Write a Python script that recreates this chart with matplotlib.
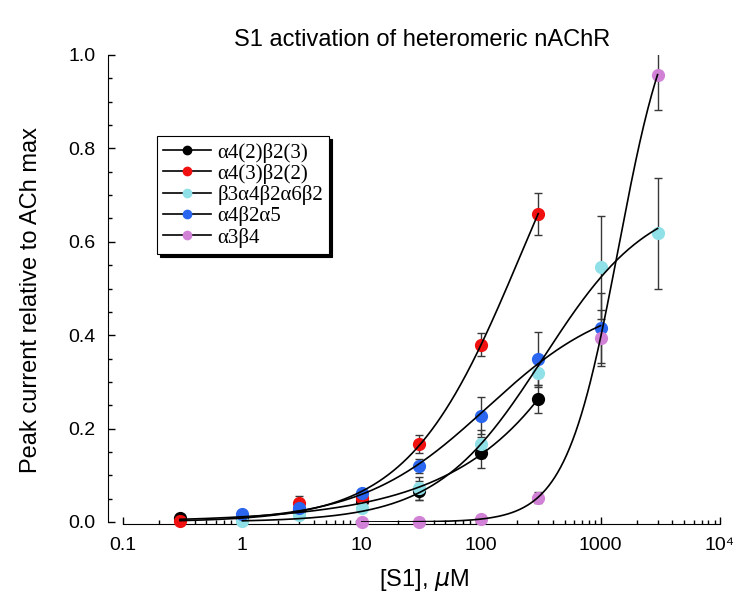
import numpy as np
import matplotlib
matplotlib.use('Agg')
import matplotlib.pyplot as plt
from matplotlib.ticker import LogLocator, FixedLocator, MultipleLocator, FixedFormatter

# concentrations (uM), mean response and error per receptor
labels = ['α4(2)β2(3)', 'α4(3)β2(2)', 'β3α4β2α6β2', 'α4β2α5', 'α3β4']
colors = ['#000000', '#f01010', '#90e0e8', '#2a66f0', '#d282d6']

x_a42b23 = [0.3, 1, 3, 10, 30, 100, 300]
y_a42b23 = [0.008, 0.006, 0.025, 0.045, 0.067, 0.148, 0.263]
e_a42b23 = [0.003, 0.003, 0.006, 0.008, 0.02, 0.033, 0.03]

x_a43b22 = [0.3, 3, 10, 30, 100, 300]
y_a43b22 = [0.002, 0.040, 0.052, 0.167, 0.380, 0.660]
e_a43b22 = [0.002, 0.015, 0.008, 0.02, 0.025, 0.045]

x_b3a4b2a6b2 = [1, 3, 10, 30, 100, 300, 1000, 3000]
y_b3a4b2a6b2 = [0.002, 0.014, 0.029, 0.072, 0.168, 0.318, 0.545, 0.618]
e_b3a4b2a6b2 = [0.002, 0.004, 0.006, 0.025, 0.03, 0.028, 0.11, 0.118]

x_a4b2a5 = [1, 3, 10, 30, 100, 300, 1000]
y_a4b2a5 = [0.018, 0.030, 0.062, 0.120, 0.228, 0.350, 0.415]
e_a4b2a5 = [0.004, 0.006, 0.008, 0.015, 0.04, 0.056, 0.075]

x_a3b4 = [10, 30, 100, 300, 1000, 3000]
y_a3b4 = [0.0, 0.0, 0.007, 0.052, 0.395, 0.958]
e_a3b4 = [0.0, 0.0, 0.003, 0.012, 0.06, 0.075]

series = [(x_a42b23, y_a42b23, e_a42b23), (x_a43b22, y_a43b22, e_a43b22),
          (x_b3a4b2a6b2, y_b3a4b2a6b2, e_b3a4b2a6b2),
          (x_a4b2a5, y_a4b2a5, e_a4b2a5), (x_a3b4, y_a3b4, e_a3b4)]


def hill_fit(x, y):
    # grid search on EC50 and slope, Imax solved by least squares
    x = np.asarray(x, float)
    y = np.asarray(y, float)
    lec = np.arange(-1, 6, 0.01)
    nh = np.arange(0.3, 4, 0.01)
    L, N = np.meshgrid(lec, nh, indexing='ij')
    f = 1.0 / (1.0 + (10.0**L[..., None] / x) ** N[..., None])
    imax = (f * y).sum(-1) / (f * f).sum(-1)
    imax = np.clip(imax, 0, None)
    sse = ((imax[..., None] * f - y) ** 2).sum(-1)
    i, j = np.unravel_index(np.argmin(sse), sse.shape)
    return imax[i, j], 10.0**lec[i], nh[j]


plt.rcParams['font.family'] = ['Liberation Sans', 'DejaVu Sans']
fig = plt.figure(figsize=(7.36, 6.06), dpi=100)
ax = fig.add_axes([123/736, 84/606, 597/736, 467/606])

handles = []
for (x, y, e), c, lab in zip(series, colors, labels):
    ax.errorbar(x, y, yerr=e, fmt='none', ecolor='#383838', elinewidth=1,
                capsize=3, capthick=1, zorder=2)
    ax.plot(x, y, 'o', color=c, ms=8.5, mec=c, zorder=3, clip_on=False)
    imax, ec50, n = hill_fit(x, y)
    xx = np.geomspace(x[0], x[-1], 300)
    ax.plot(xx, imax / (1 + (ec50 / xx) ** n), color='black', lw=1.2, zorder=4)
    handles.append(plt.Line2D([], [], color='black', lw=1.2, marker='o',
                              ms=6, mfc=c, mec=c))

ax.set_xscale('log')
ax.set_xlim(0.1, 1e4)
ax.set_ylim(0, 1.0)
for s in ['top', 'right']:
    ax.spines[s].set_visible(False)
ax.spines['left'].set_position(('outward', 11))
ax.spines['bottom'].set_position(('outward', 1.5))
ax.xaxis.set_major_locator(FixedLocator([0.1, 1, 10, 100, 1000, 1e4]))
ax.xaxis.set_major_formatter(FixedFormatter(['0.1', '1', '10', '100', '1000', '10⁴']))
ax.xaxis.set_minor_locator(LogLocator(base=10, subs=np.arange(2, 10)))
ax.yaxis.set_major_locator(MultipleLocator(0.2))
ax.yaxis.set_minor_locator(MultipleLocator(0.05))
ax.yaxis.set_major_formatter(plt.FormatStrFormatter('%.1f'))
ax.tick_params(which='both', direction='in', width=1, labelsize=14, pad=9)
ax.tick_params(which='major', length=5)
ax.tick_params(which='minor', length=3)
ax.xaxis.set_minor_formatter(plt.NullFormatter())

fig.text(422/736, 1 - 40/606, 'S1 activation of heteromeric nAChR', ha='center',
         va='center', fontsize=17)
fig.text(424/736, 1 - 580/606, '[S1], $\\mu$M', ha='center', va='center', fontsize=17)
fig.text(31/736, 1 - 300/606, 'Peak current relative to ACh max', ha='center',
         va='center', rotation=90, fontsize=17)

leg = ax.legend(handles, labels, loc='upper left', bbox_to_anchor=(0.057, 0.826),
                borderaxespad=0, frameon=True, fancybox=False, handlelength=2.3,
                handletextpad=0.3, labelspacing=0.06, borderpad=0.3,
                prop={'family': 'Liberation Serif', 'size': 15},
                shadow={'color': 'black', 'alpha': 1})
leg.get_frame().set_edgecolor('black')
leg.get_frame().set_linewidth(0.8)
leg.get_frame().set_alpha(1)

fig.savefig('out.png', dpi=100)
